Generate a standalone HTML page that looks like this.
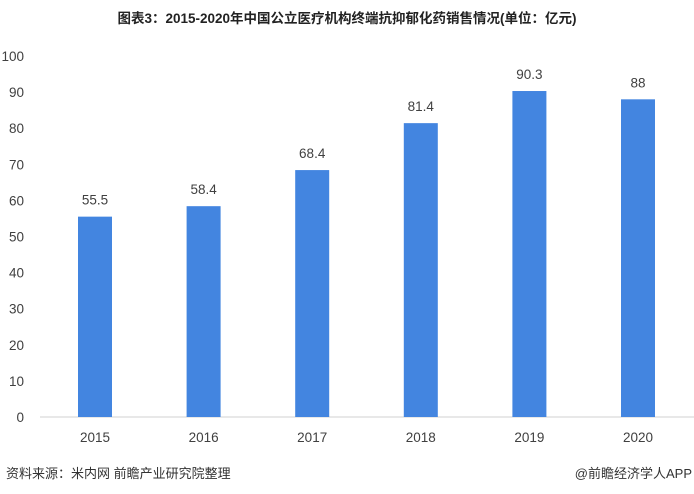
<!DOCTYPE html>
<html><head><meta charset="utf-8"><style>
body{margin:0;background:#fff;}
svg{display:block;font-family:"Liberation Sans","Noto Sans CJK SC",sans-serif;}
</style></head><body>
<svg width="694" height="494" viewBox="0 0 694 494">
<text x="347" y="23" text-anchor="middle" font-size="13.5" font-weight="bold" fill="#222">图表3：2015-2020年中国公立医疗机构终端抗抑郁化药销售情况(单位：亿元)</text>
<g id="yaxis"></g>
<line x1="40" y1="417" x2="694" y2="417" stroke="#d0d0d0" stroke-width="1"/>
<g id="bars"></g>
<text x="6" y="478" font-size="13" fill="#333">资料来源：米内网 前瞻产业研究院整理</text>
<text x="692" y="478" text-anchor="end" font-size="13" fill="#333">@前瞻经济学人APP</text>
</svg>
<script>
const categories=["2015","2016","2017","2018","2019","2020"];
const values=[55.5,58.4,68.4,81.4,90.3,88];
const valueLabels=["55.5","58.4","68.4","81.4","90.3","88"];
const yTicks=[0,10,20,30,40,50,60,70,80,90,100];
const NS="http://www.w3.org/2000/svg";
function y(v){return 417-v*3.61;}
function xc(i){return 95+i*108.6;}
const ya=document.getElementById('yaxis');
yTicks.forEach(t=>{
 const e=document.createElementNS(NS,'text');
 
 
 e.setAttribute('x',24);e.setAttribute('y',y(t)+5);
 e.setAttribute('text-anchor','end');e.setAttribute('font-size','13.5');e.setAttribute('fill','#404040');
 e.textContent=t;ya.appendChild(e);
});
const g=document.getElementById('bars');
values.forEach((v,i)=>{
 const r=document.createElementNS(NS,'rect');
 
 
 r.setAttribute('x',xc(i)-17);r.setAttribute('width',34);
 r.setAttribute('y',y(v));r.setAttribute('height',417-y(v));
 r.setAttribute('fill','#4385e0');g.appendChild(r);
 const l=document.createElementNS(NS,'text');
 
 
 l.setAttribute('x',xc(i));l.setAttribute('y',y(v)-12);
 l.setAttribute('text-anchor','middle');l.setAttribute('font-size','13.5');l.setAttribute('fill','#404040');
 l.textContent=valueLabels[i];g.appendChild(l);
 const c=document.createElementNS(NS,'text');
 
 
 c.setAttribute('x',xc(i));c.setAttribute('y',442);
 c.setAttribute('text-anchor','middle');c.setAttribute('font-size','13.5');c.setAttribute('fill','#404040');
 c.textContent=categories[i];g.appendChild(c);
});
</script>
</body></html>
